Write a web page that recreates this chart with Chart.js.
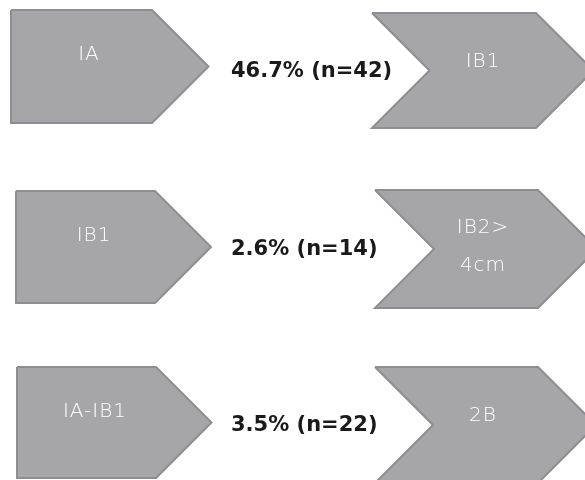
<!DOCTYPE html>
<html>
<head>
<meta charset="utf-8">
<script src="https://cdn.jsdelivr.net/npm/chart.js@4.4.1/dist/chart.umd.min.js"></script>
<style>
  html, body { margin: 0; padding: 0; background: #fff; }
</style>
</head>
<body>
<canvas id="myChart" width="585" height="480"></canvas>
<script>
// stage transitions, one row each
const fromStage = ['IA', 'IB1', 'IA-IB1'];
const toStage = [['IB1'], ['IB2>', '4cm'], ['2B']];
const percent = [46.7, 2.6, 3.5];
const count = [42, 14, 22];

// where each row's shapes sit, on a 585x480 sheet
const leftBox = [
  { x0: 11, x1: 152, top: 10, bottom: 123 },
  { x0: 16, x1: 155, top: 191, bottom: 303 },
  { x0: 17, x1: 156, top: 367, bottom: 478 }
];
const rightBox = [
  { x0: 372, x1: 536, top: 13, bottom: 128 },
  { x0: 375, x1: 538, top: 190, bottom: 308 },
  { x0: 375, x1: 538, top: 367, bottom: 483 }
];

const fillCol = '#a6a6a8';
const edgeCol = '#8e8e90';

// pentagon arrow (flat left side)
function pentagon(b) {
  let h = (b.bottom - b.top) / 2, mid = b.top + h;
  return [
    {x: b.x0, y: b.top}, {x: b.x1, y: b.top}, {x: b.x1 + h, y: mid},
    {x: b.x1, y: b.bottom}, {x: b.x0, y: b.bottom}, {x: b.x0, y: b.top}
  ];
}

// chevron (notched left side)
function chevron(b) {
  let h = (b.bottom - b.top) / 2, mid = b.top + h;
  return [
    {x: b.x0, y: b.top}, {x: b.x1, y: b.top}, {x: b.x1 + h, y: mid},
    {x: b.x1, y: b.bottom}, {x: b.x0, y: b.bottom}, {x: b.x0 + h, y: mid},
    {x: b.x0, y: b.top}
  ];
}

let datasets = [];
for (let i = 0; i < fromStage.length; i++) {
  datasets.push({ label: fromStage[i], data: pentagon(leftBox[i]) });
  datasets.push({ label: toStage[i].join(' '), data: chevron(rightBox[i]) });
}
datasets.forEach(d => {
  d.showLine = true;
  d.fill = 'shape';
  d.backgroundColor = fillCol;
  d.borderColor = edgeCol;
  d.borderWidth = 2;
  d.pointRadius = 0;
  d.tension = 0;
  d.borderJoinStyle = 'miter';
});

// texts: stage names inside the shapes, rate in between
const labelPlugin = {
  id: 'labels',
  afterDatasetsDraw(chart) {
    const ctx = chart.ctx;
    const xs = chart.scales.x, ys = chart.scales.y;
    ctx.save();
    ctx.textBaseline = 'middle';
    for (let i = 0; i < fromStage.length; i++) {
      let L = leftBox[i], R = rightBox[i];
      ctx.fillStyle = '#ffffff';
      ctx.textAlign = 'center';
      ctx.font = '200 20px "DejaVu Sans"';
      ctx.letterSpacing = '1px';
      ctx.fillText(fromStage[i], xs.getPixelForValue(L.x0 + 78),
        ys.getPixelForValue(L.top + 0.4 * (L.bottom - L.top)));

      let rh = R.bottom - R.top;
      if (toStage[i].length == 1) {
        ctx.fillText(toStage[i][0], xs.getPixelForValue(483), ys.getPixelForValue(R.top + 0.42 * rh));
      } else {
        ctx.fillText(toStage[i][0], xs.getPixelForValue(483), ys.getPixelForValue(R.top + 0.32 * rh));
        ctx.fillText(toStage[i][1], xs.getPixelForValue(483), ys.getPixelForValue(R.top + 0.64 * rh));
      }

      ctx.fillStyle = '#1a1a1a';
      ctx.textAlign = 'left';
      ctx.letterSpacing = '0px';
      ctx.font = 'bold 21px "DejaVu Sans"';
      ctx.fillText(percent[i].toFixed(1) + '% (n=' + count[i] + ')',
        xs.getPixelForValue(231), ys.getPixelForValue(R.top + rh / 2 + 1));
    }
    ctx.restore();
  }
};

const myChart = new Chart(document.getElementById('myChart'), {
  type: 'scatter',
  data: { datasets: datasets },
  options: {
    responsive: false,
    animation: false,
    layout: { padding: 0 },
    plugins: { legend: { display: false }, tooltip: { enabled: false } },
    scales: {
      x: { type: 'linear', min: 0, max: 585, display: false },
      y: { type: 'linear', min: 0, max: 480, reverse: true, display: false }
    }
  },
  plugins: [labelPlugin]
});
</script>
</body>
</html>
